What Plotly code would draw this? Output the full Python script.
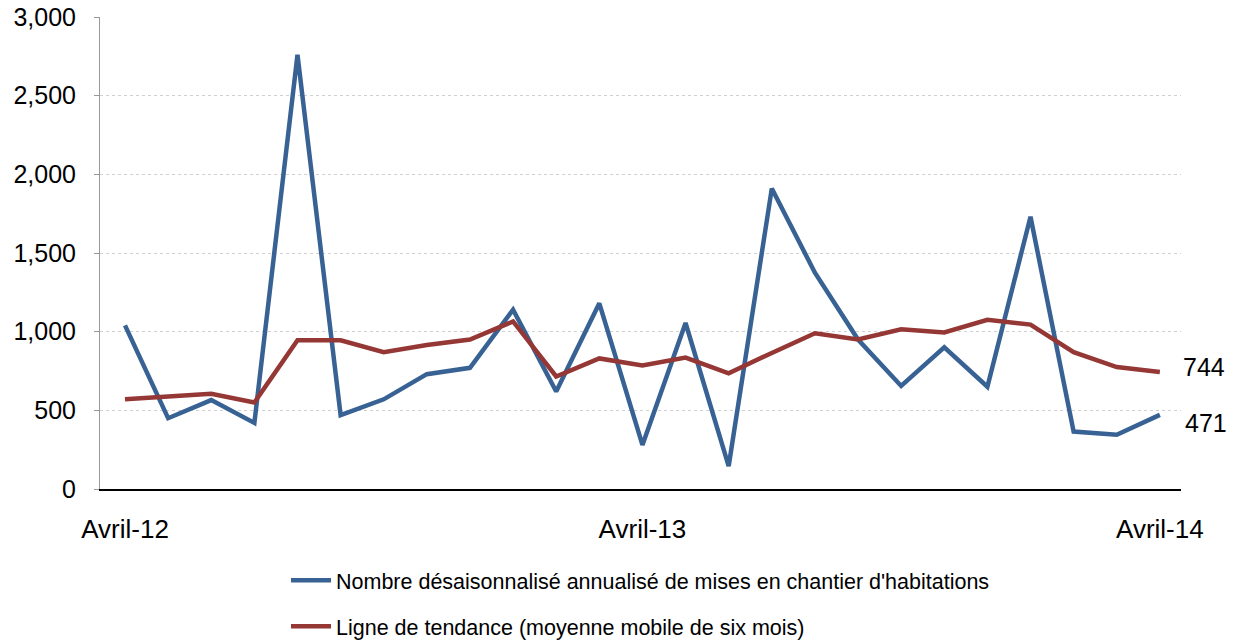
import plotly.graph_objects as go

months = list(range(25))
tick_vals = [0, 12, 24]
tick_labels = ["Avril-12", "Avril-13", "Avril-14"]

starts = [1040, 450, 565, 420, 2760, 470, 570, 730, 770, 1140, 620, 1180, 280,
          1055, 145, 1910, 1375, 950, 655, 900, 650, 1730, 365, 345, 471]
trend = [570, 585, 605, 550, 945, 945, 870, 915, 950, 1065, 715, 830, 785,
         835, 735, 865, 990, 950, 1015, 995, 1075, 1045, 870, 775, 744]

name_starts = "Nombre désaisonnalisé annualisé de mises en chantier d'habitations"
name_trend = "Ligne de tendance (moyenne mobile de six mois)"

BLUE = "#386294"
RED = "#953735"
FONT = "Arial, Liberation Sans, sans-serif"

fig = go.Figure()
fig.add_trace(go.Scatter(x=months, y=starts, mode="lines", name=name_starts,
                         line=dict(color=BLUE, width=4.5), legendgroup="a"))
fig.add_trace(go.Scatter(x=months, y=trend, mode="lines", name=name_trend,
                         line=dict(color=RED, width=4.5), legendgroup="b"))

fig.add_annotation(x=months[-1], y=trend[-1], text=str(trend[-1]), showarrow=False,
                   xanchor="left", xshift=21, yshift=5, font=dict(size=25, color="black", family=FONT))
fig.add_annotation(x=months[-1], y=starts[-1], text=str(starts[-1]), showarrow=False,
                   xanchor="left", xshift=23, yshift=-8, font=dict(size=25, color="black", family=FONT))

fig.update_layout(
    width=1233, height=641,
    margin=dict(l=100, r=52, t=17, b=152, autoexpand=False),
    plot_bgcolor="white", paper_bgcolor="white",
    font=dict(family=FONT, color="black"),
    showlegend=True,
    legend=dict(orientation="v", x=0.5, xanchor="center", y=-0.15, yanchor="top",
                font=dict(size=21.5, color="black", family=FONT), itemwidth=40,
                tracegroupgap=15, bgcolor="rgba(0,0,0,0)"),
)
fig.update_xaxes(range=[-0.58, 24.49], tickvals=tick_vals, ticktext=tick_labels,
                 showgrid=False, zeroline=False, showline=True, linecolor="black", linewidth=1.5,
                 ticks="", tickfont=dict(size=26, color="black", family=FONT),
                 ticklabelstandoff=16, automargin=False)
fig.update_yaxes(range=[0, 3000], tickvals=[0, 500, 1000, 1500, 2000, 2500, 3000],
                 tickformat=",d", showgrid=True, gridcolor="#d0d0d0", griddash="dot", gridwidth=1,
                 zeroline=False, showline=True, linecolor="#999999", linewidth=1,
                 ticks="outside", ticklen=5, tickcolor="#999999",
                 tickfont=dict(size=25, color="black", family=FONT), ticklabelstandoff=13,
                 ticklabeloverflow="allow", automargin=False)

fig.write_html("out.html", config={"displayModeBar": False},
               post_script="document.body.style.margin='0';document.body.style.padding='0';"
                           "document.body.style.overflow='hidden';")
